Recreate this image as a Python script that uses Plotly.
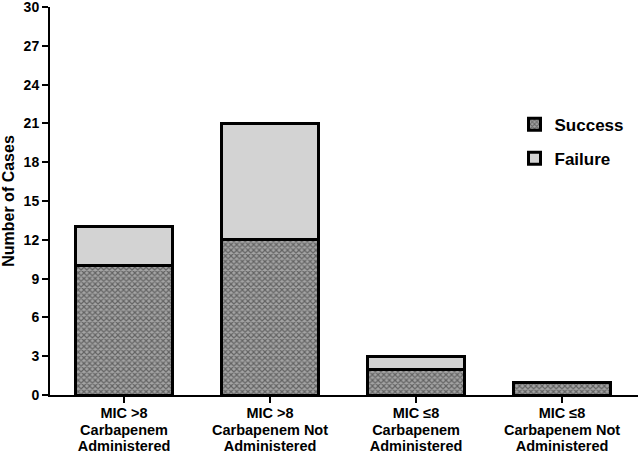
import plotly.graph_objects as go

categories = ["MIC >8<br>Carbapenem<br>Administered",
              "MIC >8<br>Carbapenem Not<br>Administered",
              "MIC ≤8<br>Carbapenem<br>Administered",
              "MIC ≤8<br>Carbapenem Not<br>Administered"]
success = [10, 12, 2, 1]
failure = [3, 9, 1, 0]
y_ticks = [0, 3, 6, 9, 12, 15, 18, 21, 24, 27, 30]

font_family = "Liberation Sans, Arial, sans-serif"
x_idx = list(range(len(categories)))


def fmt_cat(c):
    return "<br>".join('<span style="font-size:14.5px"><b>%s</b></span>' % p for p in c.split("<br>"))


fig = go.Figure()
fig.add_trace(go.Bar(
    x=x_idx, y=success, name="<b>Success</b>", width=0.67, legendgroup="s",
    marker=dict(color="#a4a4a4", line=dict(color="black", width=3),
                pattern=dict(shape="x", size=4, solidity=0.5, fgcolor="#222222", bgcolor="#a4a4a4")),
))
fig.add_trace(go.Bar(
    x=x_idx, y=failure, name="<b>Failure</b>", width=0.67, legendgroup="f",
    marker=dict(color="#d3d3d3", line=dict(color="black", width=3)),
))

fig.update_layout(
    barmode="stack",
    width=638, height=454,
    margin=dict(l=50, r=0, t=7, b=59, autoexpand=False),
    plot_bgcolor="white", paper_bgcolor="white",
    font=dict(family=font_family, color="black"),
    legend=dict(x=0.79, y=0.653, xanchor="left", yanchor="middle", traceorder="grouped",
                font=dict(size=17, family=font_family, color="black"),
                bgcolor="rgba(0,0,0,0)", tracegroupgap=9),
    bargap=0.33,
)
fig.update_xaxes(
    range=[-0.507, 3.52], tickmode="array", tickvals=x_idx,
    ticktext=[fmt_cat(c) for c in categories],
    showline=True, linecolor="black", linewidth=2,
    ticks="outside", ticklen=6, tickwidth=2, tickcolor="black",
    tickfont=dict(size=12.6, family=font_family, color="black"),
    showgrid=False, zeroline=False, automargin=False, ticklabeloverflow="allow",
)
fig.update_yaxes(
    range=[0, 30], tickmode="array", tickvals=y_ticks,
    ticktext=["<b>%d</b>" % v for v in y_ticks],
    showline=True, linecolor="black", linewidth=2,
    ticks="outside", ticklen=6, tickwidth=2, tickcolor="black",
    tickfont=dict(size=14, family=font_family, color="black"),
    title=dict(text="<b>Number of Cases</b>", font=dict(size=16, family=font_family, color="black"), standoff=6),
    showgrid=False, zeroline=False, automargin=False, ticklabeloverflow="allow",
)

fig.write_html("out.html", config={"displayModeBar": False},
               post_script="document.body.style.margin='0';document.body.style.overflow='hidden';")
